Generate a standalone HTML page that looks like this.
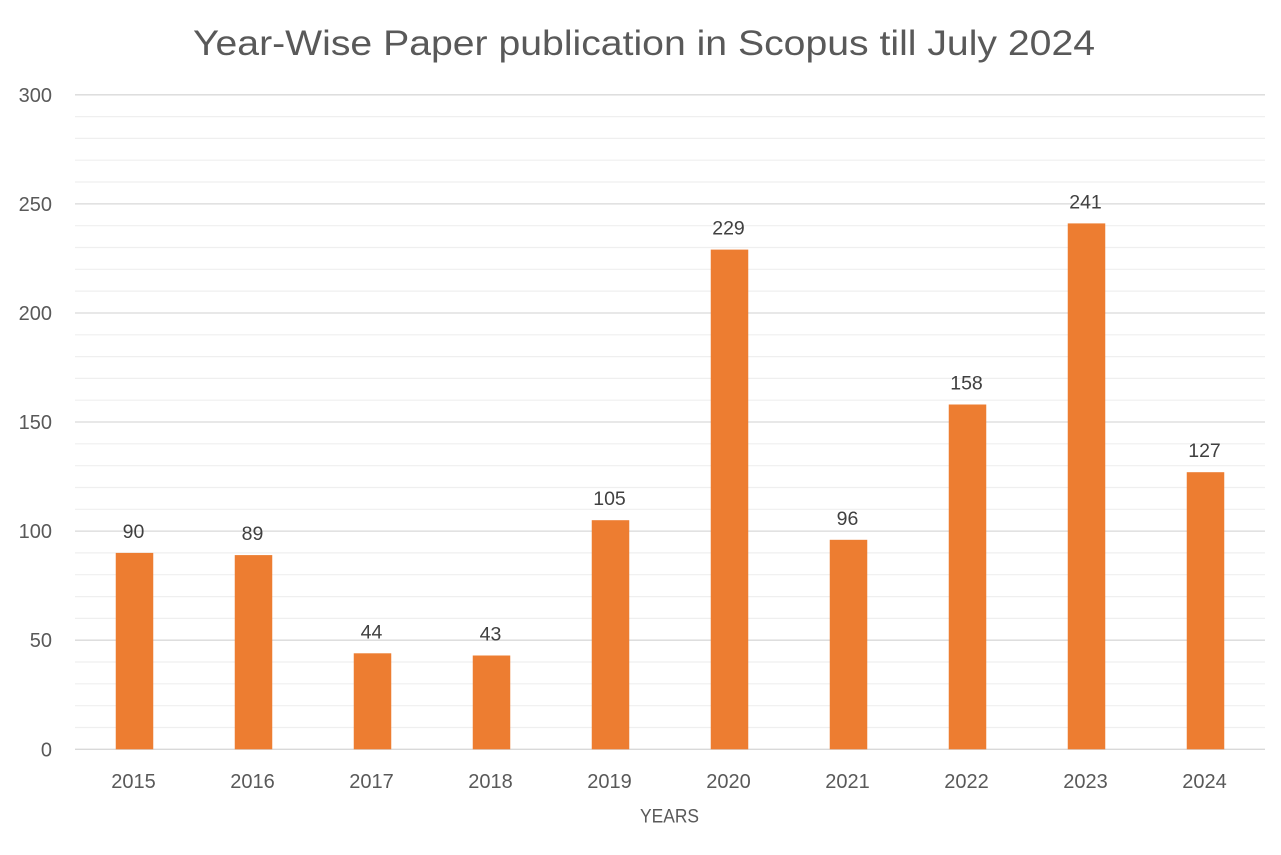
<!DOCTYPE html>
<html><head><meta charset="utf-8"><style>html,body{margin:0;padding:0;background:#fff;}svg{display:block;}</style></head>
<body>
<svg width="1281" height="855" viewBox="0 0 1281 855" xmlns="http://www.w3.org/2000/svg" font-family="'Liberation Sans', sans-serif">
<rect width="1281" height="855" fill="#fff"/>
<text x="193" y="55" font-size="35" fill="#595959" textLength="902" lengthAdjust="spacingAndGlyphs">Year-Wise Paper publication in Scopus till July 2024</text>
<g stroke="#efefef" stroke-width="1.2">
<line x1="75" x2="1265" y1="727.5" y2="727.5"/><line x1="75" x2="1265" y1="705.7" y2="705.7"/><line x1="75" x2="1265" y1="683.8" y2="683.8"/><line x1="75" x2="1265" y1="662" y2="662"/>
<line x1="75" x2="1265" y1="618.4" y2="618.4"/><line x1="75" x2="1265" y1="596.6" y2="596.6"/><line x1="75" x2="1265" y1="574.7" y2="574.7"/><line x1="75" x2="1265" y1="552.9" y2="552.9"/>
<line x1="75" x2="1265" y1="509.3" y2="509.3"/><line x1="75" x2="1265" y1="487.5" y2="487.5"/><line x1="75" x2="1265" y1="465.7" y2="465.7"/><line x1="75" x2="1265" y1="443.8" y2="443.8"/>
<line x1="75" x2="1265" y1="400.2" y2="400.2"/><line x1="75" x2="1265" y1="378.4" y2="378.4"/><line x1="75" x2="1265" y1="356.6" y2="356.6"/><line x1="75" x2="1265" y1="334.8" y2="334.8"/>
<line x1="75" x2="1265" y1="291.1" y2="291.1"/><line x1="75" x2="1265" y1="269.3" y2="269.3"/><line x1="75" x2="1265" y1="247.5" y2="247.5"/><line x1="75" x2="1265" y1="225.7" y2="225.7"/>
<line x1="75" x2="1265" y1="182" y2="182"/><line x1="75" x2="1265" y1="160.2" y2="160.2"/><line x1="75" x2="1265" y1="138.4" y2="138.4"/><line x1="75" x2="1265" y1="116.6" y2="116.6"/>
</g>
<g stroke="#d9d9d9" stroke-width="1.3">
<line x1="75" x2="1265" y1="749.3" y2="749.3"/>
<line x1="75" x2="1265" y1="640.2" y2="640.2"/>
<line x1="75" x2="1265" y1="531.1" y2="531.1"/>
<line x1="75" x2="1265" y1="422" y2="422"/>
<line x1="75" x2="1265" y1="313" y2="313"/>
<line x1="75" x2="1265" y1="203.9" y2="203.9"/>
<line x1="75" x2="1265" y1="94.8" y2="94.8"/>
</g>
<g font-size="20" fill="#595959" text-anchor="end">
<text x="52" y="756.3">0</text>
<text x="52" y="647.2">50</text>
<text x="52" y="538.1">100</text>
<text x="52" y="429">150</text>
<text x="52" y="320">200</text>
<text x="52" y="210.9">250</text>
<text x="52" y="101.8">300</text>
</g>
<g fill="#ED7D31">
<rect x="115.75" y="552.9" width="37.5" height="196.4"/>
<rect x="234.75" y="555.1" width="37.5" height="194.2"/>
<rect x="353.75" y="653.3" width="37.5" height="96"/>
<rect x="472.75" y="655.5" width="37.5" height="93.8"/>
<rect x="591.75" y="520.2" width="37.5" height="229.1"/>
<rect x="710.75" y="249.6" width="37.5" height="499.7"/>
<rect x="829.75" y="539.8" width="37.5" height="209.5"/>
<rect x="948.75" y="404.5" width="37.5" height="344.8"/>
<rect x="1067.75" y="223.4" width="37.5" height="525.9"/>
<rect x="1186.75" y="472.2" width="37.5" height="277.1"/>
</g>
<g font-size="19.5" fill="#404040" text-anchor="middle">
<text x="133.5" y="538">90</text>
<text x="252.5" y="540.2">89</text>
<text x="371.5" y="638.3">44</text>
<text x="490.5" y="640.5">43</text>
<text x="609.5" y="505.2">105</text>
<text x="728.5" y="234.6">229</text>
<text x="847.5" y="524.8">96</text>
<text x="966.5" y="389.5">158</text>
<text x="1085.5" y="208.4">241</text>
<text x="1204.5" y="457.2">127</text>
</g>
<g font-size="20" fill="#595959" text-anchor="middle">
<text x="133.5" y="788">2015</text>
<text x="252.5" y="788">2016</text>
<text x="371.5" y="788">2017</text>
<text x="490.5" y="788">2018</text>
<text x="609.5" y="788">2019</text>
<text x="728.5" y="788">2020</text>
<text x="847.5" y="788">2021</text>
<text x="966.5" y="788">2022</text>
<text x="1085.5" y="788">2023</text>
<text x="1204.5" y="788">2024</text>
</g>
<text x="640" y="822.5" font-size="19" fill="#595959" textLength="59" lengthAdjust="spacingAndGlyphs">YEARS</text>
</svg>
</body></html>
